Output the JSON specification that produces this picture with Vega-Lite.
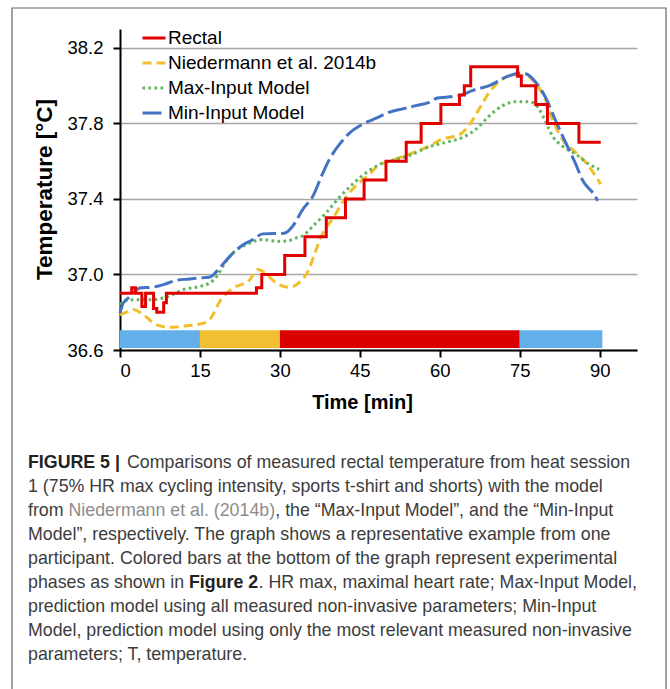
{
  "$schema": "https://vega.github.io/schema/vega-lite/v6.json",
  "width": 517,
  "height": 321,
  "autosize": {"type": "none"},
  "padding": {"left": 120, "top": 29, "right": 33, "bottom": 339},
  "background": "white",
  "config": {"view": {"stroke": null}, "font": "Liberation Sans"},
  "datasets": {
    "phases": [
      {"phase": "rest1", "start": 0, "end": 15, "lo": 36.61, "hi": 36.705},
      {"phase": "warm", "start": 15, "end": 30, "lo": 36.61, "hi": 36.705},
      {"phase": "heat", "start": 30, "end": 75, "lo": 36.61, "hi": 36.705},
      {"phase": "rest2", "start": 75, "end": 90.5, "lo": 36.61, "hi": 36.705}
    ],
    "temps": [
      {"s": "Rectal", "t": 0, "v": 36.9},
      {"s": "Rectal", "t": 2.2, "v": 36.93},
      {"s": "Rectal", "t": 2.9, "v": 36.9},
      {"s": "Rectal", "t": 4.1, "v": 36.83},
      {"s": "Rectal", "t": 4.8, "v": 36.9},
      {"s": "Rectal", "t": 6.3, "v": 36.82},
      {"s": "Rectal", "t": 6.9, "v": 36.8},
      {"s": "Rectal", "t": 8.2, "v": 36.85},
      {"s": "Rectal", "t": 8.7, "v": 36.9},
      {"s": "Rectal", "t": 25.6, "v": 36.93},
      {"s": "Rectal", "t": 26.6, "v": 37.0},
      {"s": "Rectal", "t": 30.9, "v": 37.1},
      {"s": "Rectal", "t": 34.7, "v": 37.2},
      {"s": "Rectal", "t": 38.7, "v": 37.3},
      {"s": "Rectal", "t": 42.3, "v": 37.4},
      {"s": "Rectal", "t": 45.8, "v": 37.5},
      {"s": "Rectal", "t": 49.9, "v": 37.6},
      {"s": "Rectal", "t": 53.7, "v": 37.7},
      {"s": "Rectal", "t": 56.5, "v": 37.8},
      {"s": "Rectal", "t": 60.2, "v": 37.9},
      {"s": "Rectal", "t": 63.7, "v": 37.95},
      {"s": "Rectal", "t": 64.6, "v": 38.0},
      {"s": "Rectal", "t": 65.8, "v": 38.1},
      {"s": "Rectal", "t": 74.6, "v": 38.05},
      {"s": "Rectal", "t": 75.3, "v": 38.0},
      {"s": "Rectal", "t": 78.0, "v": 37.9},
      {"s": "Rectal", "t": 80.2, "v": 37.8},
      {"s": "Rectal", "t": 86.1, "v": 37.7},
      {"s": "Rectal", "t": 90.2, "v": 37.7},

      {"s": "Niedermann et al. 2014b", "t": 0, "v": 36.786},
      {"s": "Niedermann et al. 2014b", "t": 1.2, "v": 36.8},
      {"s": "Niedermann et al. 2014b", "t": 2.5, "v": 36.815},
      {"s": "Niedermann et al. 2014b", "t": 4.4, "v": 36.786},
      {"s": "Niedermann et al. 2014b", "t": 6.9, "v": 36.733},
      {"s": "Niedermann et al. 2014b", "t": 9.4, "v": 36.72},
      {"s": "Niedermann et al. 2014b", "t": 12.5, "v": 36.728},
      {"s": "Niedermann et al. 2014b", "t": 15, "v": 36.738},
      {"s": "Niedermann et al. 2014b", "t": 16.5, "v": 36.75},
      {"s": "Niedermann et al. 2014b", "t": 17.5, "v": 36.79},
      {"s": "Niedermann et al. 2014b", "t": 18.7, "v": 36.857},
      {"s": "Niedermann et al. 2014b", "t": 20, "v": 36.9},
      {"s": "Niedermann et al. 2014b", "t": 21.2, "v": 36.928},
      {"s": "Niedermann et al. 2014b", "t": 24.3, "v": 36.97},
      {"s": "Niedermann et al. 2014b", "t": 25.9, "v": 37.026},
      {"s": "Niedermann et al. 2014b", "t": 27.5, "v": 37.0},
      {"s": "Niedermann et al. 2014b", "t": 29.3, "v": 36.955},
      {"s": "Niedermann et al. 2014b", "t": 31.8, "v": 36.932},
      {"s": "Niedermann et al. 2014b", "t": 33.3, "v": 36.95},
      {"s": "Niedermann et al. 2014b", "t": 34.3, "v": 36.975},
      {"s": "Niedermann et al. 2014b", "t": 35.5, "v": 37.03},
      {"s": "Niedermann et al. 2014b", "t": 36.5, "v": 37.11},
      {"s": "Niedermann et al. 2014b", "t": 38.1, "v": 37.22},
      {"s": "Niedermann et al. 2014b", "t": 40.0, "v": 37.3},
      {"s": "Niedermann et al. 2014b", "t": 42.4, "v": 37.41},
      {"s": "Niedermann et al. 2014b", "t": 44.9, "v": 37.487},
      {"s": "Niedermann et al. 2014b", "t": 46.8, "v": 37.53},
      {"s": "Niedermann et al. 2014b", "t": 48.1, "v": 37.57},
      {"s": "Niedermann et al. 2014b", "t": 50.6, "v": 37.6},
      {"s": "Niedermann et al. 2014b", "t": 54.3, "v": 37.637},
      {"s": "Niedermann et al. 2014b", "t": 58.0, "v": 37.68},
      {"s": "Niedermann et al. 2014b", "t": 60.5, "v": 37.717},
      {"s": "Niedermann et al. 2014b", "t": 63.7, "v": 37.74},
      {"s": "Niedermann et al. 2014b", "t": 65.5, "v": 37.79},
      {"s": "Niedermann et al. 2014b", "t": 67.4, "v": 37.877},
      {"s": "Niedermann et al. 2014b", "t": 69.3, "v": 37.965},
      {"s": "Niedermann et al. 2014b", "t": 71.1, "v": 38.02},
      {"s": "Niedermann et al. 2014b", "t": 73.6, "v": 38.057},
      {"s": "Niedermann et al. 2014b", "t": 76.1, "v": 38.054},
      {"s": "Niedermann et al. 2014b", "t": 78.0, "v": 38.01},
      {"s": "Niedermann et al. 2014b", "t": 79.6, "v": 37.94},
      {"s": "Niedermann et al. 2014b", "t": 81.1, "v": 37.823},
      {"s": "Niedermann et al. 2014b", "t": 83.0, "v": 37.717},
      {"s": "Niedermann et al. 2014b", "t": 85.5, "v": 37.646},
      {"s": "Niedermann et al. 2014b", "t": 87.4, "v": 37.593},
      {"s": "Niedermann et al. 2014b", "t": 90.2, "v": 37.478},

      {"s": "Max-Input Model", "t": 0, "v": 36.84},
      {"s": "Max-Input Model", "t": 1.2, "v": 36.862},
      {"s": "Max-Input Model", "t": 2.5, "v": 36.866},
      {"s": "Max-Input Model", "t": 5.6, "v": 36.866},
      {"s": "Max-Input Model", "t": 8.7, "v": 36.88},
      {"s": "Max-Input Model", "t": 11.9, "v": 36.92},
      {"s": "Max-Input Model", "t": 15, "v": 36.937},
      {"s": "Max-Input Model", "t": 16.5, "v": 36.95},
      {"s": "Max-Input Model", "t": 17.5, "v": 36.97},
      {"s": "Max-Input Model", "t": 18.4, "v": 37.0},
      {"s": "Max-Input Model", "t": 19.3, "v": 37.043},
      {"s": "Max-Input Model", "t": 21.2, "v": 37.114},
      {"s": "Max-Input Model", "t": 23.7, "v": 37.158},
      {"s": "Max-Input Model", "t": 26.8, "v": 37.185},
      {"s": "Max-Input Model", "t": 28.5, "v": 37.178},
      {"s": "Max-Input Model", "t": 30, "v": 37.176},
      {"s": "Max-Input Model", "t": 31.5, "v": 37.178},
      {"s": "Max-Input Model", "t": 33.1, "v": 37.194},
      {"s": "Max-Input Model", "t": 34.3, "v": 37.205},
      {"s": "Max-Input Model", "t": 36.2, "v": 37.256},
      {"s": "Max-Input Model", "t": 37.4, "v": 37.29},
      {"s": "Max-Input Model", "t": 38.7, "v": 37.327},
      {"s": "Max-Input Model", "t": 40.9, "v": 37.4},
      {"s": "Max-Input Model", "t": 43.7, "v": 37.48},
      {"s": "Max-Input Model", "t": 46.5, "v": 37.545},
      {"s": "Max-Input Model", "t": 49.3, "v": 37.59},
      {"s": "Max-Input Model", "t": 51.8, "v": 37.61},
      {"s": "Max-Input Model", "t": 54.3, "v": 37.63},
      {"s": "Max-Input Model", "t": 58.0, "v": 37.676},
      {"s": "Max-Input Model", "t": 61.2, "v": 37.7},
      {"s": "Max-Input Model", "t": 64.3, "v": 37.726},
      {"s": "Max-Input Model", "t": 66.8, "v": 37.77},
      {"s": "Max-Input Model", "t": 69.3, "v": 37.84},
      {"s": "Max-Input Model", "t": 71.8, "v": 37.894},
      {"s": "Max-Input Model", "t": 74.3, "v": 37.915},
      {"s": "Max-Input Model", "t": 76.8, "v": 37.915},
      {"s": "Max-Input Model", "t": 78.6, "v": 37.877},
      {"s": "Max-Input Model", "t": 79.9, "v": 37.806},
      {"s": "Max-Input Model", "t": 81.1, "v": 37.735},
      {"s": "Max-Input Model", "t": 83.0, "v": 37.68},
      {"s": "Max-Input Model", "t": 85.5, "v": 37.637},
      {"s": "Max-Input Model", "t": 88.0, "v": 37.584},
      {"s": "Max-Input Model", "t": 89.9, "v": 37.557},

      {"s": "Min-Input Model", "t": 0, "v": 36.795},
      {"s": "Min-Input Model", "t": 0.6, "v": 36.848},
      {"s": "Min-Input Model", "t": 1.9, "v": 36.883},
      {"s": "Min-Input Model", "t": 3.7, "v": 36.928},
      {"s": "Min-Input Model", "t": 6.2, "v": 36.933},
      {"s": "Min-Input Model", "t": 8.1, "v": 36.946},
      {"s": "Min-Input Model", "t": 10.6, "v": 36.969},
      {"s": "Min-Input Model", "t": 13.1, "v": 36.976},
      {"s": "Min-Input Model", "t": 14.4, "v": 36.98},
      {"s": "Min-Input Model", "t": 16.9, "v": 36.987},
      {"s": "Min-Input Model", "t": 18.7, "v": 37.035},
      {"s": "Min-Input Model", "t": 20.6, "v": 37.096},
      {"s": "Min-Input Model", "t": 23.1, "v": 37.158},
      {"s": "Min-Input Model", "t": 25.0, "v": 37.185},
      {"s": "Min-Input Model", "t": 26.8, "v": 37.215},
      {"s": "Min-Input Model", "t": 30.8, "v": 37.218},
      {"s": "Min-Input Model", "t": 32.4, "v": 37.256},
      {"s": "Min-Input Model", "t": 34.3, "v": 37.345},
      {"s": "Min-Input Model", "t": 36.2, "v": 37.415},
      {"s": "Min-Input Model", "t": 38.1, "v": 37.54},
      {"s": "Min-Input Model", "t": 39.3, "v": 37.61},
      {"s": "Min-Input Model", "t": 41.2, "v": 37.69},
      {"s": "Min-Input Model", "t": 43.1, "v": 37.75},
      {"s": "Min-Input Model", "t": 45.6, "v": 37.797},
      {"s": "Min-Input Model", "t": 48.1, "v": 37.828},
      {"s": "Min-Input Model", "t": 50.6, "v": 37.86},
      {"s": "Min-Input Model", "t": 53.0, "v": 37.877},
      {"s": "Min-Input Model", "t": 55.5, "v": 37.894},
      {"s": "Min-Input Model", "t": 58.0, "v": 37.912},
      {"s": "Min-Input Model", "t": 59.6, "v": 37.935},
      {"s": "Min-Input Model", "t": 61.2, "v": 37.939},
      {"s": "Min-Input Model", "t": 63.7, "v": 37.947},
      {"s": "Min-Input Model", "t": 66.2, "v": 37.975},
      {"s": "Min-Input Model", "t": 69.3, "v": 38.0},
      {"s": "Min-Input Model", "t": 72.4, "v": 38.045},
      {"s": "Min-Input Model", "t": 74.9, "v": 38.066},
      {"s": "Min-Input Model", "t": 76.1, "v": 38.063},
      {"s": "Min-Input Model", "t": 78.0, "v": 38.018},
      {"s": "Min-Input Model", "t": 79.8, "v": 37.94},
      {"s": "Min-Input Model", "t": 81.5, "v": 37.83},
      {"s": "Min-Input Model", "t": 83.0, "v": 37.735},
      {"s": "Min-Input Model", "t": 85.5, "v": 37.585},
      {"s": "Min-Input Model", "t": 86.7, "v": 37.504},
      {"s": "Min-Input Model", "t": 89.3, "v": 37.407},
      {"s": "Min-Input Model", "t": 89.6, "v": 37.39}
    ]
  },
  "layer": [
    {
      "data": {"values": [{}]},
      "mark": {"type": "rect", "x": -108, "y": -21, "x2": 546, "y2": 720, "fill": null, "stroke": "#666666", "strokeWidth": 1.2},
      "encoding": {}
    },
    {
      "data": {"name": "phases"},
      "mark": {"type": "rect"},
      "encoding": {
        "x": {"field": "start", "type": "quantitative", "scale": {"domain": [0, 97], "nice": false, "zero": false}, "title": "Time [min]"},
        "x2": {"field": "end"},
        "y": {"field": "lo", "type": "quantitative", "scale": {"domain": [36.6, 38.3], "nice": false, "zero": false}, "title": "Temperature [°C]"},
        "y2": {"field": "hi"},
        "color": {"field": "phase", "type": "nominal", "scale": {"domain": ["rest1", "warm", "heat", "rest2"], "range": ["#62AFEA", "#F0BF32", "#DA0000", "#62AFEA"]}, "legend": null}
      }
    },
    {
      "data": {"name": "temps"},
      "transform": [{"filter": "datum.s !== 'Rectal'"}],
      "mark": {"type": "line", "strokeWidth": 3, "interpolate": "monotone"},
      "encoding": {
        "x": {"field": "t", "type": "quantitative", "title": "Time [min]"},
        "y": {"field": "v", "type": "quantitative", "title": "Temperature [°C]"},
        "stroke": {"field": "s", "type": "nominal",
          "scale": {"domain": ["Rectal", "Niedermann et al. 2014b", "Max-Input Model", "Min-Input Model"], "range": ["#E00000", "#F2BE2C", "#5DB55A", "#4472C4"]},
          "legend": {"orient": "none", "legendX": 21, "legendY": -4, "title": null, "symbolType": "stroke", "symbolSize": 529, "symbolStrokeWidth": 3, "labelFontSize": 19, "labelColor": "black", "labelOffset": 1, "labelLimit": 0, "rowPadding": 2}},
        "strokeDash": {"field": "s", "type": "nominal",
          "scale": {"domain": ["Rectal", "Niedermann et al. 2014b", "Max-Input Model", "Min-Input Model"], "range": [[1, 0], [9, 5], [2.6, 3.4], [19, 5]]},
          "legend": {"orient": "none", "legendX": 21, "legendY": -4, "title": null, "symbolType": "stroke", "symbolSize": 529, "symbolStrokeWidth": 3, "labelFontSize": 19, "labelColor": "black", "labelOffset": 1, "labelLimit": 0, "rowPadding": 2}}
      }
    },
    {
      "data": {"name": "temps"},
      "transform": [{"filter": "datum.s === 'Rectal'"}],
      "mark": {"type": "line", "strokeWidth": 3, "interpolate": "step-after"},
      "encoding": {
        "x": {"field": "t", "type": "quantitative", "title": "Time [min]",
          "axis": {"values": [0, 15, 30, 45, 60, 75, 90], "grid": false, "domainColor": "black", "domainWidth": 2, "tickColor": "black", "tickWidth": 2, "tickSize": 7, "labelFontSize": 18.5, "labelColor": "black", "labelPadding": 4, "titleFontSize": 20, "titleFontWeight": "bold", "titleColor": "black", "titleX": 242, "titleY": 52, "titleBaseline": "middle", "titleAlign": "center", "titleAnchor": null}},
        "y": {"field": "v", "type": "quantitative", "title": "Temperature [°C]",
          "axis": {"values": [36.6, 37.0, 37.4, 37.8, 38.2], "format": ".1f", "grid": true, "gridColor": "#A6A6A6", "gridWidth": 1.5, "domainColor": "black", "domainWidth": 2, "tickColor": "black", "tickWidth": 2, "tickSize": 7, "labelFontSize": 18.5, "labelColor": "black", "labelPadding": 10, "titleFontSize": 22.5, "titleFontWeight": "bold", "titleColor": "black", "titleX": -76, "titleY": 160, "titleAngle": 270, "titleBaseline": "middle", "titleAlign": "center", "titleAnchor": null}},
        "stroke": {"field": "s", "type": "nominal"},
        "strokeDash": {"field": "s", "type": "nominal"}
      }
    },
    {"data": {"values": [{}]}, "mark": {"type": "text", "text": "FIGURE 5 |", "x": -92, "y": 434, "align": "left", "baseline": "middle", "font": "Liberation Sans", "fontWeight": "bold", "fontSize": 17.8, "fill": "#222222"}, "encoding": {}},
    {"data": {"values": [{}]}, "mark": {"type": "text", "text": "Comparisons of measured rectal temperature from heat session", "x": 7, "y": 434, "align": "left", "baseline": "middle", "font": "Liberation Sans", "fontSize": 17.8, "fill": "#3c3c3c"}, "encoding": {}},
    {"data": {"values": [{}]}, "mark": {"type": "text", "text": "1 (75% HR max cycling intensity, sports t-shirt and shorts) with the model", "x": -92, "y": 458, "align": "left", "baseline": "middle", "font": "Liberation Sans", "fontSize": 17.8, "fill": "#3c3c3c"}, "encoding": {}},
    {"data": {"values": [{}]}, "mark": {"type": "text", "text": "from", "x": -92, "y": 482, "align": "left", "baseline": "middle", "font": "Liberation Sans", "fontSize": 17.8, "fill": "#3c3c3c"}, "encoding": {}},
    {"data": {"values": [{}]}, "mark": {"type": "text", "text": "Niedermann et al. (2014b)", "x": -51.5, "y": 482, "align": "left", "baseline": "middle", "font": "Liberation Sans", "fontSize": 17.8, "fill": "#8c8c8c"}, "encoding": {}},
    {"data": {"values": [{}]}, "mark": {"type": "text", "text": ", the “Max-Input Model”, and the “Min-Input", "x": 155.3, "y": 482, "align": "left", "baseline": "middle", "font": "Liberation Sans", "fontSize": 17.8, "fill": "#3c3c3c"}, "encoding": {}},
    {"data": {"values": [{}]}, "mark": {"type": "text", "text": "Model”, respectively. The graph shows a representative example from one", "x": -92, "y": 506, "align": "left", "baseline": "middle", "font": "Liberation Sans", "fontSize": 17.8, "fill": "#3c3c3c"}, "encoding": {}},
    {"data": {"values": [{}]}, "mark": {"type": "text", "text": "participant. Colored bars at the bottom of the graph represent experimental", "x": -92, "y": 530, "align": "left", "baseline": "middle", "font": "Liberation Sans", "fontSize": 17.8, "fill": "#3c3c3c"}, "encoding": {}},
    {"data": {"values": [{}]}, "mark": {"type": "text", "text": "phases as shown in", "x": -92, "y": 554, "align": "left", "baseline": "middle", "font": "Liberation Sans", "fontSize": 17.8, "fill": "#3c3c3c"}, "encoding": {}},
    {"data": {"values": [{}]}, "mark": {"type": "text", "text": "Figure 2", "x": 69, "y": 554, "align": "left", "baseline": "middle", "font": "Liberation Sans", "fontWeight": "bold", "fontSize": 17.8, "fill": "#222222"}, "encoding": {}},
    {"data": {"values": [{}]}, "mark": {"type": "text", "text": ". HR max, maximal heart rate; Max-Input Model,", "x": 138.5, "y": 554, "align": "left", "baseline": "middle", "font": "Liberation Sans", "fontSize": 17.8, "fill": "#3c3c3c"}, "encoding": {}},
    {"data": {"values": [{}]}, "mark": {"type": "text", "text": "prediction model using all measured non-invasive parameters; Min-Input", "x": -92, "y": 578, "align": "left", "baseline": "middle", "font": "Liberation Sans", "fontSize": 17.8, "fill": "#3c3c3c"}, "encoding": {}},
    {"data": {"values": [{}]}, "mark": {"type": "text", "text": "Model, prediction model using only the most relevant measured non-invasive", "x": -92, "y": 602, "align": "left", "baseline": "middle", "font": "Liberation Sans", "fontSize": 17.8, "fill": "#3c3c3c"}, "encoding": {}},
    {"data": {"values": [{}]}, "mark": {"type": "text", "text": "parameters; T, temperature.", "x": -92, "y": 626, "align": "left", "baseline": "middle", "font": "Liberation Sans", "fontSize": 17.8, "fill": "#3c3c3c"}, "encoding": {}}
  ]
}
